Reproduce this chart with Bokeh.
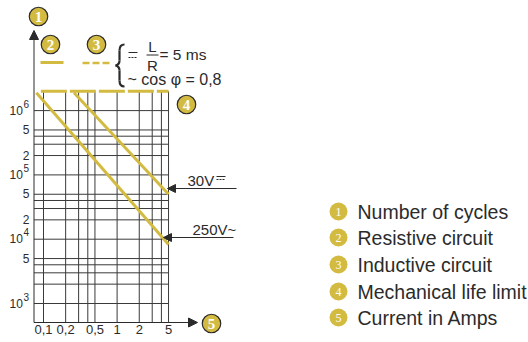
from bokeh.plotting import figure
from bokeh.models import Range1d, FixedTicker, Label, Arrow, NormalHead
from bokeh.embed import file_html
from bokeh.resources import INLINE

# ---- data
x_grid = [0.1, 0.2, 0.3, 0.4, 0.5, 1, 2, 3, 4, 5]
y_grid = [1e6, 5e5, 4e5, 3e5, 2e5, 1e5, 5e4, 4e4, 3e4, 2e4, 1e4, 5e3, 4e3, 3e3, 2e3, 1e3]
x_ticks = [0.1, 0.2, 0.5, 1, 2, 5]
x_tick_labels = ["0,1", "0,2", "0,5", "1", "2", "5"]
y_ticks = [1e6, 5e5, 2e5, 1e5, 5e4, 2e4, 1e4, 5e3, 1e3]
y_tick_labels = ["10\u00a0\u00a0", "5", "2", "10\u00a0\u00a0", "5", "2", "10\u00a0\u00a0", "5", "10\u00a0\u00a0"]
decades = [1e6, 1e5, 1e4, 1e3]
decade_exponents = ["6", "5", "4", "3"]
curve_250v_x = [0.08, 5]
curve_250v_y = [1.9e6, 8.3e3]
curve_30v_x = [0.26, 5]
curve_30v_y = [1.9e6, 5.0e4]
limit_x = [0.092, 5]
limit_y = [2.0e6, 2.0e6]
legend_items = ["Number of cycles", "Resistive circuit", "Inductive circuit",
                "Mechanical life limit", "Current in Amps"]

GOLD = "#d3bb42"
DARK = "#2b2b2b"
GRID = "#3a3a3a"
FONT = "Liberation Sans"

# page pixel -> data helpers (annotations only)
def X(px):
    return 10 ** (-1 + (px - 43) / 73.6)
def Y(py):
    return 10 ** (3 + (303 - py) / 64.3)

W, H = 528, 342
p = figure(width=W, height=H, output_backend="svg", toolbar_location=None,
           x_axis_type="log", y_axis_type="log",
           x_range=Range1d(X(0), X(W)), y_range=Range1d(Y(H), Y(0)),
           min_border_left=0, min_border_right=0, min_border_top=0, min_border_bottom=0,
           outline_line_color=None, background_fill_color=None, border_fill_color="white")
p.grid.visible = False

for ax, ticks, labs in ((p.xaxis[0], x_ticks, x_tick_labels), (p.yaxis[0], y_ticks, y_tick_labels)):
    ax.ticker = FixedTicker(ticks=ticks)
    ax.major_label_overrides = dict(zip(ticks, labs))
    ax.major_tick_line_color = None
    ax.minor_tick_line_color = None
    ax.major_tick_in = 0
    ax.major_tick_out = 0
    ax.axis_line_color = None
    ax.major_label_text_font = FONT
    ax.major_label_text_font_size = "12px"
    ax.major_label_text_color = DARK
p.xaxis[0].major_label_text_font_size = "13px"
p.xaxis[0].major_label_standoff = -18
p.yaxis[0].major_label_standoff = -29

# grid
top = limit_y[0]
bottom = Y(322)
p.segment(x_grid, [bottom] * len(x_grid), x_grid, [top] * len(x_grid), line_color=GRID, line_width=1)
left = X(33.5)
p.segment([left] * len(y_grid), y_grid, [5] * len(y_grid), y_grid, line_color=GRID, line_width=1)

# curves
p.line(curve_250v_x, curve_250v_y, line_color=GOLD, line_width=3)
p.line(curve_30v_x, curve_30v_y, line_color=GOLD, line_width=3)
p.line(limit_x, limit_y, line_color=GOLD, line_width=3, line_dash="26 3")

# key lines
p.line([X(40), X(63)], [Y(62)] * 2, line_color=GOLD, line_width=3)
p.line([X(82), X(109)], [Y(62.5)] * 2, line_color=GOLD, line_width=2.5, line_dash="7 3")


def arrow(x0, y0, x1, y1, size=9):
    p.add_layout(Arrow(end=NormalHead(size=size, fill_color=DARK, line_color=DARK),
                       x_start=X(x0), y_start=Y(y0), x_end=X(x1), y_end=Y(y1),
                       line_color=DARK, line_width=1))

arrow(33.5, 322, 33.5, 30)
arrow(33.5, 322, 197, 322)
arrow(236, 188, 167, 188, 8)
arrow(233, 237, 163, 237, 8)


def text(px, py, s, size=15, align="left", font=FONT, style="normal", color=DARK):
    p.add_layout(Label(x=X(px), y=Y(py), text=s, text_font=font, text_font_size=f"{size}px",
                       text_align=align, text_baseline="middle", text_color=color,
                       text_font_style=style))


for d, e in zip(decades, decade_exponents):
    p.add_layout(Label(x=X(23), y=d, y_offset=7, text=e, text_font=FONT, text_font_size="10px",
                       text_baseline="middle", text_color=DARK))

# numbered badges on the chart
badges_x = [38, 50, 96, 186, 211]
badges_y = [16, 44, 44, 104, 323]
badge_text = ["1", "2", "3", "4", "5"]
p.scatter([X(v) for v in badges_x], [Y(v) for v in badges_y], size=18.5, fill_color=GOLD,
          line_color=DARK, line_width=1.2)
for bx, by, s in zip(badges_x, badges_y, badge_text):
    text(bx, by, s, 15, "center", font="Liberation Sans Narrow", style="bold", color="white")

# legend
legend_x = 338
legend_y = [211, 237, 264, 291, 317]
p.scatter([X(legend_x)] * 5, [Y(v) for v in legend_y], size=18, fill_color=GOLD, line_color=None)
for i, (ly, s) in enumerate(zip(legend_y, legend_items)):
    text(legend_x, ly, str(i + 1), 12, "center", font="Liberation Serif", color="white")
    text(357, ly, s, 19.5)

# formula block: brace
brace = [
    ((124, 44), (119, 50), (119, 44)),
    ((119, 50), (119, 60), (119, 55)),
    ((119, 60), (115, 65), (119, 64)),
    ((115, 65), (119, 70), (119, 66)),
    ((119, 70), (119, 80), (119, 75)),
    ((119, 80), (124, 86), (119, 86)),
]
for a, b, c in brace:
    p.quadratic(x0=X(a[0]), y0=Y(a[1]), x1=X(b[0]), y1=Y(b[1]), cx=X(c[0]), cy=Y(c[1]),
                line_color=DARK, line_width=2.2)


def dc_symbol(x0, x1, y_solid, y_dash):
    p.line([X(x0), X(x1)], [Y(y_solid)] * 2, line_color=DARK, line_width=1)
    p.line([X(x0), X(x1)], [Y(y_dash)] * 2, line_color=DARK, line_width=1, line_dash="2 1")


dc_symbol(128, 137, 52, 57)
text(152, 46, "L", 15, "center")
text(152, 65, "R", 15, "center")
p.line([X(146), X(158)], [Y(54.5)] * 2, line_color=DARK, line_width=1)
text(159, 54, "= 5 ms", 15.5)
text(127, 79, "~ cos \u03c6 = 0,8", 16)

# voltage annotations
text(187, 180, "30V", 15)
dc_symbol(216, 225, 176, 179)
text(192, 229, "250V~", 15)

open("out.html", "w").write(file_html(p, INLINE))
